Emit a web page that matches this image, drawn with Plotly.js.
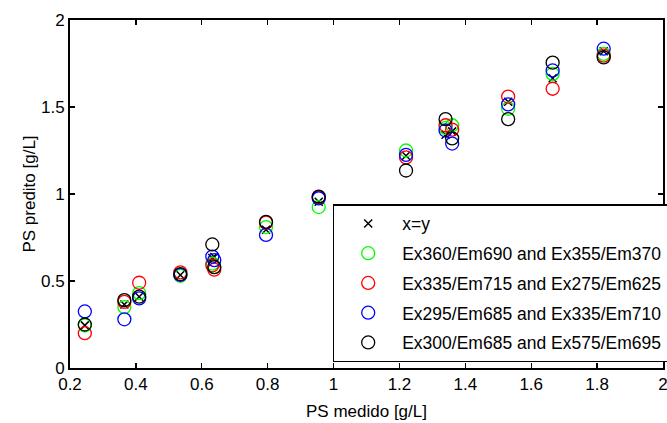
<!DOCTYPE html>
<html>
<head>
<meta charset="utf-8">
<script src="https://cdn.plot.ly/plotly-3.0.1.min.js"></script>
<style>html,body{margin:0;padding:0;background:#fff;overflow:hidden;}#chart{width:667px;height:423px;}</style>
</head>
<body>
<div id="chart"></div>
<script>
// PS medido (measured) values [g/L]
const medido = [0.245, 0.365, 0.41, 0.535, 0.632, 0.638, 0.795, 0.955, 1.22, 1.34, 1.36, 1.53, 1.665, 1.82];
// Predicted values per model
const predGreen = [0.245, 0.35, 0.43, 0.53, 0.60, 0.58, 0.81, 0.925, 1.25, 1.38, 1.395, 1.49, 1.69, 1.805];
const predRed   = [0.20, 0.38, 0.49, 0.55, 0.59, 0.565, 0.835, 0.98, 1.21, 1.395, 1.37, 1.56, 1.605, 1.795];
const predBlue  = [0.325, 0.28, 0.40, 0.535, 0.64, 0.62, 0.765, 0.975, 1.225, 1.365, 1.29, 1.515, 1.71, 1.835];
const predBlack = [0.25, 0.39, 0.41, 0.54, 0.71, 0.58, 0.84, 0.985, 1.135, 1.43, 1.32, 1.43, 1.755, 1.785];
const seriesNames = ['x=y', 'Ex360/Em690 and Ex355/Em370', 'Ex335/Em715 and Ex275/Em625', 'Ex295/Em685 and Ex335/Em710', 'Ex300/Em685 and Ex575/Em695'];
const seriesColors = ['#000000', '#00ff00', '#ff0000', '#0000ff', '#000000'];

const FONT = 'Arial, "Liberation Sans", sans-serif';
const preds = [medido, predGreen, predRed, predBlue, predBlack];
const traces = preds.map((ys, i) => {
  const isX = i === 0;
  return {
    type: 'scatter', mode: 'markers',
    x: medido, y: ys, name: seriesNames[i], legendgroup: 'g' + i,
    marker: isX
      ? {symbol: 'x-thin-open', size: 8, color: '#000', line: {color: '#000', width: 1.5}}
      : {symbol: 'circle-open', size: 13, color: seriesColors[i], line: {color: seriesColors[i], width: 1.3}},
    cliponaxis: false,
    hoverinfo: 'skip'
  };
});

const axisCommon = {
  showgrid: false, zeroline: false, showline: true, linecolor: '#000', linewidth: 2,
  mirror: 'ticks', ticks: 'inside', ticklen: 5, tickwidth: 1.3, tickcolor: '#000',
  ticklabeloverflow: 'allow',
  tickfont: {family: FONT, size: 17, color: '#000'}
};

const layout = {
  width: 667, height: 423,
  paper_bgcolor: '#fff', plot_bgcolor: '#fff',
  margin: {l: 70, r: 4, t: 20, b: 55, autoexpand: false},
  font: {family: FONT, color: '#000'},
  showlegend: true,
  legend: {
    x: 0.443, y: 0.471, xanchor: 'left', yanchor: 'top',
    bgcolor: '#fff', bordercolor: '#000', borderwidth: 1.5,
    font: {family: FONT, size: 17.5, color: '#000'},
    tracegroupgap: 4, itemwidth: 58
  },
  xaxis: Object.assign({}, axisCommon, {
    range: [0.2, 2], tick0: 0.2, dtick: 0.2,
    title: {text: 'PS medido [g/L]', font: {family: FONT, size: 17, color: '#000'}, standoff: 12}
  }),
  yaxis: Object.assign({}, axisCommon, {
    range: [0, 2], tick0: 0, dtick: 0.5,
    title: {text: 'PS predito [g/L]', font: {family: FONT, size: 17, color: '#000'}, standoff: 1}
  })
};

Plotly.newPlot('chart', traces, layout, {staticPlot: true, displayModeBar: false});
</script>
</body>
</html>
